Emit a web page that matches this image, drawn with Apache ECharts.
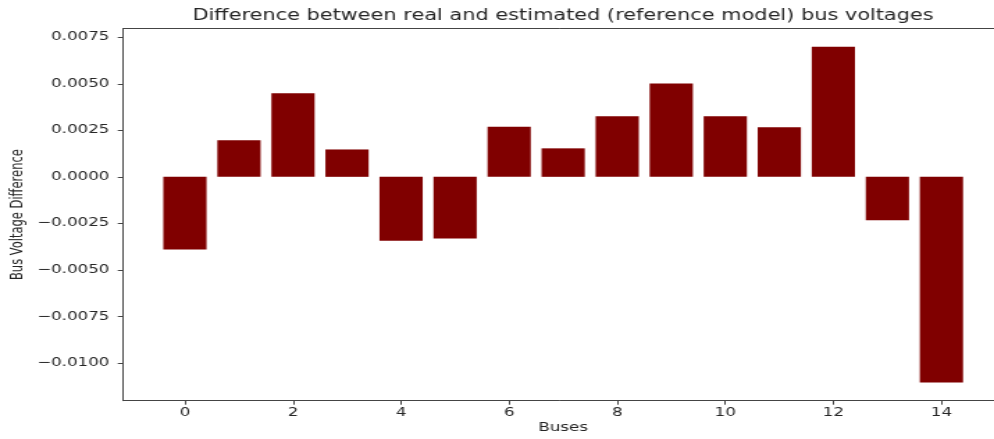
<!DOCTYPE html>
<html>
<head>
<meta charset="utf-8">
<script src="https://cdn.jsdelivr.net/npm/echarts@6/dist/echarts.min.js"></script>
<style>
  html, body { margin: 0; padding: 0; background: #fff; overflow: hidden; width: 994px; height: 439px; }
  /* the figure is drawn narrow and widened to the page width */
  #chart { width: 715px; height: 439px; transform: scaleX(1.3902); transform-origin: 0 0; }
</style>
</head>
<body>
<div id="chart"></div>
<script>
// Bus indices and the real-minus-estimated voltage difference per bus
const buses = [0, 1, 2, 3, 4, 5, 6, 7, 8, 9, 10, 11, 12, 13, 14];
const voltageDiff = [-0.0039, 0.00197, 0.00449, 0.00147, -0.00344, -0.00331, 0.00269,
                     0.00153, 0.00325, 0.00502, 0.00325, 0.00266, 0.00699, -0.00233, -0.01105];

// Tick positions
const xTicks = [0, 2, 4, 6, 8, 10, 12, 14];
const yTicks = [-0.01, -0.0075, -0.005, -0.0025, 0, 0.0025, 0.005, 0.0075];

const titleText = 'Difference between real and estimated (reference model) bus voltages';
const xName = 'Buses';
const yName = 'Bus Voltage Difference';

const FONT = 'DejaVu Sans';
const TEXT = '#262626';
const SPINE = '#444';

function fmtY(v) {
  const s = Math.abs(v).toFixed(4);
  return (v < 0 ? '\u2212' : '') + s;
}

const chart = echarts.init(document.getElementById('chart'), null, { renderer: 'canvas' });

chart.setOption({
  animation: false,
  backgroundColor: '#fff',
  title: {
    text: titleText,
    left: 405,
    top: 9,
    padding: 0,
    textAlign: 'center',
    textStyle: { fontFamily: FONT, fontSize: 15, fontWeight: 'normal', color: TEXT }
  },
  grid: {
    left: 88.7,
    right: -6.5,
    top: 28.5,
    bottom: 38.3,
    containLabel: false,
    outerBoundsMode: 'none'
  },
  xAxis: [
    {
      type: 'value',
      min: -1.14,
      max: 15.14,
      name: xName,
      nameLocation: 'middle',
      nameGap: 21,
      nameMoveOverlap: false,
      nameTextStyle: { fontFamily: FONT, fontSize: 12, color: TEXT },
      axisLine: { show: true, onZero: false, lineStyle: { color: SPINE, width: 1 } },
      axisTick: { show: true, length: 4, customValues: xTicks, lineStyle: { color: SPINE, width: 1 } },
      axisLabel: { show: true, customValues: xTicks, margin: 6, fontFamily: FONT, fontSize: 12, color: TEXT },
      splitLine: { show: false }
    },
    {
      type: 'value',
      position: 'top',
      min: -1.14,
      max: 15.14,
      axisLine: { show: true, onZero: false, lineStyle: { color: SPINE, width: 1 } },
      axisTick: { show: false },
      axisLabel: { show: false },
      splitLine: { show: false }
    }
  ],
  yAxis: {
    type: 'value',
    min: -0.01203,
    max: 0.00797,
    name: yName,
    nameLocation: 'middle',
    nameGap: 70,
    nameMoveOverlap: false,
    nameTextStyle: { fontFamily: FONT, fontSize: 11.5, color: TEXT },
    axisLine: { show: true, onZero: false, lineStyle: { color: SPINE, width: 1 } },
    axisTick: { show: true, length: 4, customValues: yTicks, lineStyle: { color: SPINE, width: 1 } },
    axisLabel: { show: true, customValues: yTicks, margin: 10, fontFamily: FONT, fontSize: 12, color: TEXT, formatter: fmtY },
    splitLine: { show: false }
  },
  series: [
    {
      type: 'bar',
      xAxisIndex: 0,
      data: buses.map((b, i) => [b, voltageDiff[i]]),
      barWidth: '80%',
      itemStyle: { color: '#800000' }
    }
  ]
});
</script>
</body>
</html>
